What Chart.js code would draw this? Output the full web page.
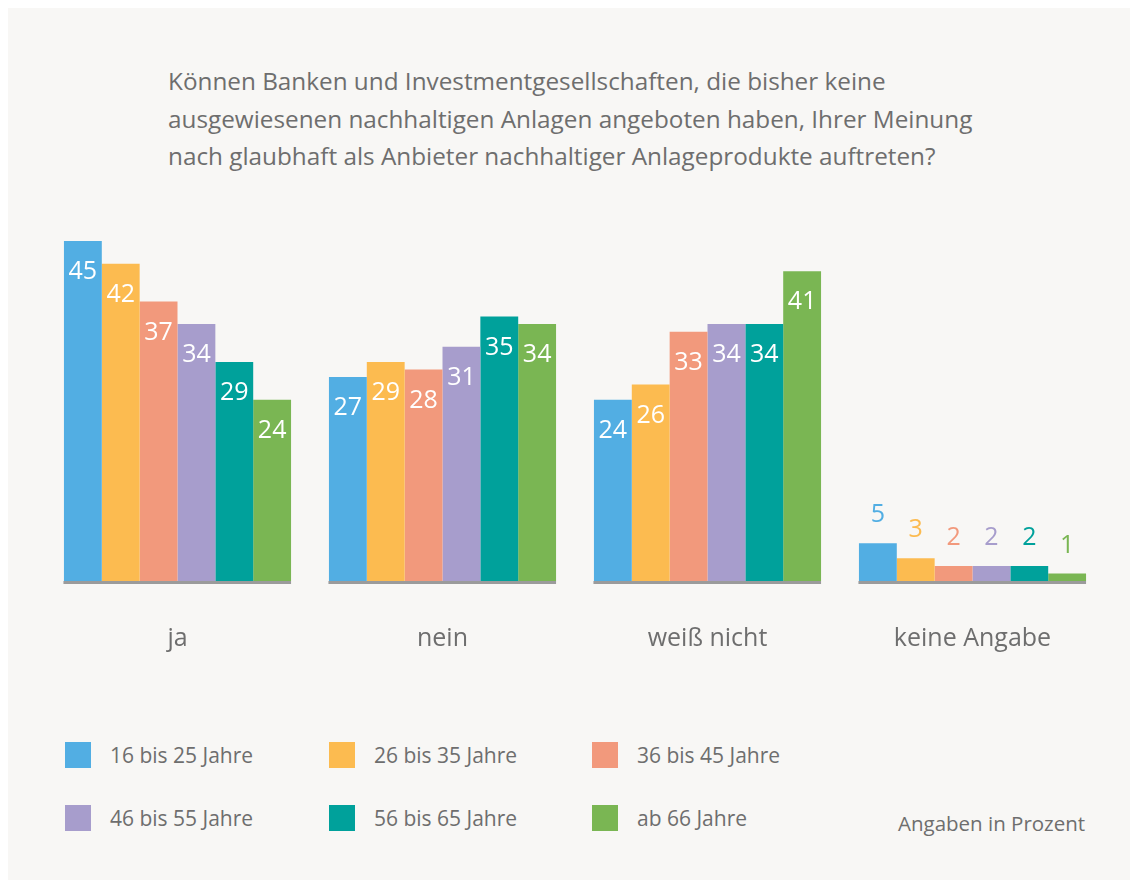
<!DOCTYPE html>
<html><head><meta charset="utf-8">
<script src="https://cdn.jsdelivr.net/npm/chart.js@4"></script>
<style>
html,body{margin:0;padding:0;background:#fff;width:1130px;height:882px;overflow:hidden;font-family:"Open Sans",Lato,sans-serif;}
#card{position:absolute;left:8px;top:8px;width:1122px;height:872px;background:#f8f7f5;}
#title{position:absolute;left:168px;top:62px;font-size:24.3px;line-height:37.5px;color:#6e6e6e;white-space:nowrap;}
#wrap{position:absolute;left:0;top:0;width:1130px;height:689px;}
.lg{position:absolute;font-size:21px;color:#6e6e6e;white-space:nowrap;}
.lg span.sw{position:absolute;left:0;top:0;width:26px;height:26px;}
.lg span.tx{position:absolute;left:45px;top:0px;line-height:26px;}
#note{position:absolute;left:898px;top:810px;font-size:20.5px;line-height:26px;color:#6e6e6e;white-space:nowrap;}
</style></head>
<body>
<div id="card"></div>
<div id="title">Können Banken und Investmentgesellschaften, die bisher keine<br>ausgewiesenen nachhaltigen Anlagen angeboten haben, Ihrer Meinung<br>nach glaubhaft als Anbieter nachhaltiger Anlageprodukte auftreten?</div>
<div id="wrap"><canvas id="c" width="1130" height="689"></canvas></div>
<div id="legend"></div>
<div id="note">Angaben in Prozent</div>
<script>
const categories = ["ja", "nein", "weiß nicht", "keine Angabe"];
const seriesNames = ["16 bis 25 Jahre", "26 bis 35 Jahre", "36 bis 45 Jahre", "46 bis 55 Jahre", "56 bis 65 Jahre", "ab 66 Jahre"];
const age16_25 = [45, 27, 24, 5];
const age26_35 = [42, 29, 26, 3];
const age36_45 = [37, 28, 33, 2];
const age46_55 = [34, 31, 34, 2];
const age56_65 = [29, 35, 34, 2];
const age66plus = [24, 34, 41, 1];
const seriesValues = [age16_25, age26_35, age36_45, age46_55, age56_65, age66plus];
const colors = ["#52aee3", "#fcbb50", "#f2997c", "#a79dcc", "#00a19b", "#7ab653"];
const FONT = '"Open Sans", Lato, sans-serif';

const labelPlugin = {
  id: 'labels',
  afterDatasetsDraw(chart) {
    const ctx = chart.ctx;
    ctx.save();
    ctx.font = '25px ' + FONT;
    ctx.textAlign = 'center';
    ctx.textBaseline = 'middle';
    chart.data.datasets.forEach((ds, di) => {
      const meta = chart.getDatasetMeta(di);
      meta.data.forEach((bar, i) => {
        const v = ds.data[i];
        const h = bar.base - bar.y;
        if (h > 45) {
          ctx.fillStyle = '#ffffff';
          ctx.fillText(String(v), bar.x, bar.y + 31);
        } else {
          ctx.fillStyle = ds.backgroundColor;
          ctx.fillText(String(v), bar.x, bar.y - 28);
        }
      });
    });
    const n = chart.data.datasets.length;
    const first = chart.getDatasetMeta(0).data;
    const last = chart.getDatasetMeta(n - 1).data;
    ctx.fillStyle = '#9b9b9b';
    first.forEach((b, i) => {
      const l = b.x - b.width / 2;
      const r = last[i].x + last[i].width / 2;
      ctx.fillRect(l - 0.5, chart.chartArea.bottom, r - l + 0.5, 3);
    });
    ctx.restore();
  }
};

new Chart(document.getElementById('c'), {
  type: 'bar',
  data: {
    labels: categories,
    datasets: seriesNames.map((name, i) => ({
      label: name,
      data: seriesValues[i],
      backgroundColor: colors[i],
      borderWidth: 0,
      categoryPercentage: 0.857,
      barPercentage: 1.0
    }))
  },
  options: {
    responsive: false,
    animation: false,
    layout: { padding: { left: 45, right: 25, top: 241, bottom: 0 } },
    plugins: { legend: { display: false }, tooltip: { enabled: false } },
    scales: {
      x: {
        grid: { display: false },
        border: { display: false },
        ticks: { color: '#6e6e6e', font: { size: 25, family: FONT }, padding: 35 }
      },
      y: { display: false, min: 0, max: 45 }
    }
  },
  plugins: [labelPlugin]
});

const legendPos = [[65, 742], [329, 742], [592, 742], [65, 805], [329, 805], [592, 805]];
const lg = document.getElementById('legend');
seriesNames.forEach((n, i) => {
  const d = document.createElement('div');
  d.className = 'lg';
  d.style.left = legendPos[i][0] + 'px';
  d.style.top = legendPos[i][1] + 'px';
  d.innerHTML = '<span class="sw" style="background:' + colors[i] + '"></span><span class="tx">' + n + '</span>';
  lg.appendChild(d);
});
</script>
</body></html>
